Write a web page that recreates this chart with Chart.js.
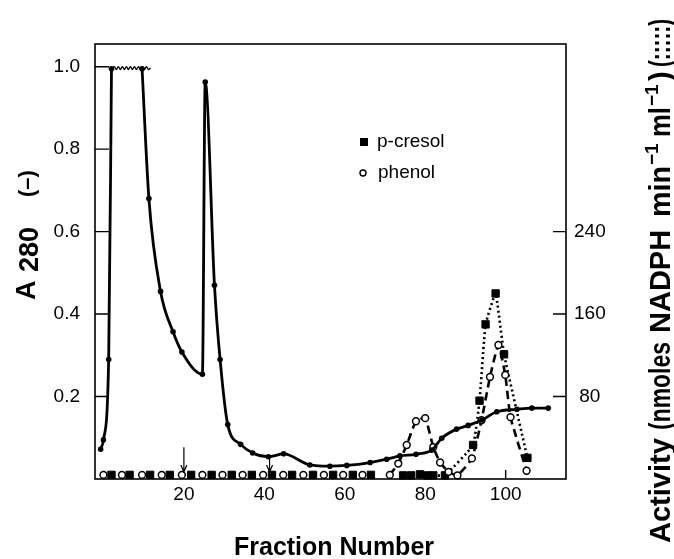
<!DOCTYPE html>
<html>
<head>
<meta charset="utf-8">
<script src="https://cdn.jsdelivr.net/npm/chart.js@4.4.0/dist/chart.umd.min.js"></script>
<style>
html, body { margin: 0; padding: 0; background: #fff; }
</style>
</head>
<body>
<canvas id="chart" width="674" height="559"></canvas>
<script>
// ---- data ----
// A280 elution profile (solid line, small dots) - left axis
const a280Fraction = [-0.7, 0, 1.3, 2, 5.8, 9.6, 11.3, 14.2, 17.3, 19.5, 24.6, 25.3, 27.6, 29, 30.9, 34.1, 37.1, 41, 44.8, 51.3, 56.3, 60.5, 66.3, 70.4, 73.7, 77.7, 81.6, 84.1, 87.8, 90.7, 94.1, 97.8, 102.8, 106.5, 110.6]
const a280Abs = [0.072, 0.095, 0.29, 0.995, null, 0.995, 0.68, 0.455, 0.357, 0.308, 0.254, 0.963, 0.47, 0.29, 0.132, 0.084, 0.063, 0.054, 0.061, 0.034, 0.031, 0.033, 0.04, 0.048, 0.056, 0.06, 0.07, 0.099, 0.121, 0.13, 0.143, 0.163, 0.169, 0.172, 0.172]

// off-scale (wavy) top of first peak
const offscaleFraction = [2.2, 2.7, 3.2, 3.7, 4.2, 4.7, 5.2, 5.7, 6.2, 6.7, 7.2, 7.7, 8.2, 8.7, 9.2, 9.7, 10.2, 10.7, 11.2, 11.7]
const offscaleAbs = [0.995, 1.0, 0.993, 1.0, 0.993, 1.0, 0.993, 1.0, 0.993, 1.0, 0.993, 1.0, 0.993, 1.0, 0.993, 1.0, 0.993, 1.0, 0.993, 0.997]

// phenol activity (open circles, dashed) - right axis
const phenolFraction = [71.2, 73.3, 75.4, 77.7, 80, 82, 83.7, 85.8, 88, 91.6, 94, 96.1, 98.2, 99.9, 101.2, 105.2]
const phenolActivity = [4, 15, 33, 56, 59, 31, 16, 7, 3.5, 20, 57, 99, 130, 101, 60, 8]

// p-cresol activity (filled squares, dotted) - right axis
const cresolFraction = [74.5, 76.5, 78.7, 80.5, 82, 84.9, 91.9, 93.5, 95, 97.5, 99.6, 105.4]
const cresolActivity = [3.5, 3.5, 4.5, 3.5, 3.5, 3.5, 33, 76, 150, 180, 121, 20.5]

// inactive fractions along the baseline
const phenolBaseFraction = [0, 4.6, 9.6, 14.5, 19.5, 24.6, 29.6, 34.6, 39.7, 44.7, 49.7, 54.8, 59.6, 64.4]
const phenolBaseActivity = [4, 4, 4, 4, 4, 4, 4, 4, 4, 4, 4, 4, 4, 4]
const cresolBaseFraction = [2, 6.5, 11.6, 16.5, 21.8, 26.9, 31.9, 36.9, 41.9, 46.9, 52.1, 57.1, 62, 66.5]
const cresolBaseActivity = [4, 4, 4, 4, 4, 4, 4, 4, 4, 4, 4, 4, 4, 4]

// arrows marking fractions
const arrowFraction = [20, 41.3]
const arrowTop = [0.077, 0.052]
const arrowBottom = [0.017, 0.017]

// ticks
const xTickValues = [20, 40, 60, 80, 100]
const xInnerTicks = [100]
const leftTickValues = [0.2, 0.4, 0.6, 0.8, 1.0]
const rightTickValues = [80, 160, 240]

const pts = (xs, ys) => xs.map((x, i) => ({ x: x, y: ys[i] }))
const FONT = 'Liberation Sans, Arial, sans-serif'

const decor = {
    id: 'decor',
    afterDraw(chart) {
        const ctx = chart.ctx
        const a = chart.chartArea
        const sx = chart.scales.x, sl = chart.scales.yA, sr = chart.scales.yR
        ctx.save()
        ctx.strokeStyle = '#000'
        ctx.fillStyle = '#000'
        // frame
        ctx.lineWidth = 1.6
        ctx.strokeRect(a.left, a.top, a.right - a.left, a.bottom - a.top)
        // inward ticks
        ctx.lineWidth = 1.4
        ctx.beginPath()
        leftTickValues.forEach(v => {
            const y = sl.getPixelForValue(v)
            ctx.moveTo(a.left, y); ctx.lineTo(a.left + 14, y)
        })
        rightTickValues.forEach(v => {
            const y = sr.getPixelForValue(v)
            ctx.moveTo(a.right - 13, y); ctx.lineTo(a.right, y)
        })
        xInnerTicks.forEach(v => {
            const x = sx.getPixelForValue(v)
            ctx.moveTo(x, a.bottom); ctx.lineTo(x, a.bottom - 9)
        })
        ctx.stroke()

        // arrows
        ctx.lineWidth = 1.2
        arrowFraction.forEach((f, i) => {
            const x = sx.getPixelForValue(f)
            const y1 = sl.getPixelForValue(arrowTop[i])
            const y2 = sl.getPixelForValue(arrowBottom[i])
            ctx.beginPath()
            ctx.moveTo(x, y1); ctx.lineTo(x, y2)
            ctx.moveTo(x - 3, y2 - 7); ctx.lineTo(x, y2); ctx.lineTo(x + 3, y2 - 7)
            ctx.stroke()
        })

        // legend
        ctx.font = '19px ' + FONT
        ctx.textBaseline = 'middle'
        ctx.textAlign = 'left'
        ctx.fillRect(360, 138, 8, 8)
        ctx.fillText('p-cresol', 377, 142)
        ctx.beginPath()
        ctx.lineWidth = 1.4
        ctx.arc(363, 173, 3, 0, Math.PI * 2)
        ctx.stroke()
        ctx.fillText('phenol', 378, 173)

        // x title
        ctx.textBaseline = 'alphabetic'
        ctx.textAlign = 'center'
        ctx.font = 'bold 25px ' + FONT
        ctx.fillText('Fraction Number', 334, 555)

        // left title  A280 (-)
        ctx.save()
        ctx.translate(35, 300)
        ctx.rotate(-Math.PI / 2)
        ctx.textAlign = 'left'
        ctx.font = 'bold 27px ' + FONT
        ctx.fillText('A', 0, 0)
        ctx.fillText('280', 28, 3)
        ctx.font = 'bold 22px ' + FONT
        ctx.fillText('(\u2013)', 103, -1)
        ctx.restore()

        // right title, pieces placed along the axis (start, max width, raise)
        ctx.save()
        ctx.translate(670, 543)
        ctx.rotate(-Math.PI / 2)
        ctx.textAlign = 'left'
        const big = 'bold 29px ' + FONT, small = 'bold 19px ' + FONT
        const parts = [
            [big, 'Activity', 0, 106, 0],
            [big, '(nmoles', 113, 88, 0],
            [big, 'NADPH', 210, 108, 0],
            [big, 'min', 326, 51, 0],
            [small, '\u22121', 378, 24, -12],
            [big, 'ml', 406, 30, 0],
            [small, '\u22121', 437, 24, -12],
            [big, ')', 462, 12, 0],
            [big, '(:::::)', 476, 48, 0]
        ]
        parts.forEach(p => {
            ctx.font = p[0]
            ctx.fillText(p[1], p[2], p[4], p[3])
        })
        ctx.restore()
        ctx.restore()
    }
}

const tickFont = { family: FONT, size: 19 }

new Chart(document.getElementById('chart'), {
    type: 'line',
    data: {
        datasets: [
            {
                label: 'A280',
                data: pts(a280Fraction, a280Abs),
                yAxisID: 'yA',
                borderColor: '#000',
                backgroundColor: '#000',
                borderWidth: 2.8,
                pointRadius: 2.8,
                pointBackgroundColor: '#000',
                pointBorderWidth: 0,
                cubicInterpolationMode: 'monotone',
                spanGaps: false,
                order: 1
            },
            {
                label: 'offscale',
                data: pts(offscaleFraction, offscaleAbs),
                yAxisID: 'yA',
                borderColor: '#000',
                borderWidth: 1.3,
                pointRadius: 0,
                tension: 0.4,
                clip: false,
                order: 1
            },
            {
                label: 'phenol',
                data: pts(phenolFraction, phenolActivity),
                yAxisID: 'yR',
                borderColor: '#000',
                borderWidth: 2.6,
                borderDash: [8, 5],
                pointStyle: 'circle',
                pointRadius: 3.4,
                pointBorderWidth: 1.5,
                pointBorderColor: '#000',
                pointBackgroundColor: '#fff',
                tension: 0.15,
                clip: false,
                order: 2
            },
            {
                label: 'p-cresol',
                data: pts(cresolFraction, cresolActivity),
                yAxisID: 'yR',
                borderColor: '#000',
                borderWidth: 2.6,
                borderDash: [2, 3],
                pointStyle: 'rect',
                pointRadius: 5.2,
                pointBorderWidth: 1,
                pointBorderColor: '#000',
                pointBackgroundColor: '#000',
                tension: 0.1,
                clip: false,
                order: 3
            },
            {
                label: 'phenol base',
                data: pts(phenolBaseFraction, phenolBaseActivity),
                yAxisID: 'yR',
                showLine: false,
                pointStyle: 'circle',
                pointRadius: 3.4,
                pointBorderWidth: 1.5,
                pointBorderColor: '#000',
                pointBackgroundColor: '#fff',
                clip: false,
                order: 4
            },
            {
                label: 'p-cresol base',
                data: pts(cresolBaseFraction, cresolBaseActivity),
                yAxisID: 'yR',
                showLine: false,
                pointStyle: 'rect',
                pointRadius: 5.2,
                pointBorderWidth: 1,
                pointBorderColor: '#000',
                pointBackgroundColor: '#000',
                clip: false,
                order: 5
            }
        ]
    },
    options: {
        responsive: false,
        animation: false,
        devicePixelRatio: 1,
        layout: { padding: { top: 44, left: 0, right: 0, bottom: 0 } },
        plugins: { legend: { display: false }, tooltip: { enabled: false } },
        scales: {
            x: {
                type: 'linear',
                position: 'bottom',
                min: -2.1,
                max: 115,
                afterBuildTicks: s => { s.ticks = xTickValues.map(v => ({ value: v })) },
                afterFit: s => { s.height = 80 },
                grid: { display: false, drawTicks: false },
                border: { display: false },
                ticks: { font: tickFont, color: '#000', padding: 4, maxRotation: 0, autoSkip: false, callback: v => String(v) }
            },
            yA: {
                type: 'linear',
                position: 'left',
                min: 0,
                max: 1.055,
                afterBuildTicks: s => { s.ticks = leftTickValues.map(v => ({ value: v })) },
                afterFit: s => { s.width = 95 },
                grid: { display: false, drawTicks: false },
                border: { display: false },
                ticks: { font: tickFont, color: '#000', padding: 15, callback: v => v.toFixed(1) }
            },
            yR: {
                type: 'linear',
                position: 'right',
                min: 0,
                max: 422,
                afterBuildTicks: s => { s.ticks = rightTickValues.map(v => ({ value: v })) },
                afterFit: s => { s.width = 108 },
                grid: { display: false, drawTicks: false },
                border: { display: false },
                ticks: { font: tickFont, color: '#000', padding: 8, crossAlign: 'center', callback: v => String(v) }
            }
        }
    },
    plugins: [decor]
})
</script>
</body>
</html>
